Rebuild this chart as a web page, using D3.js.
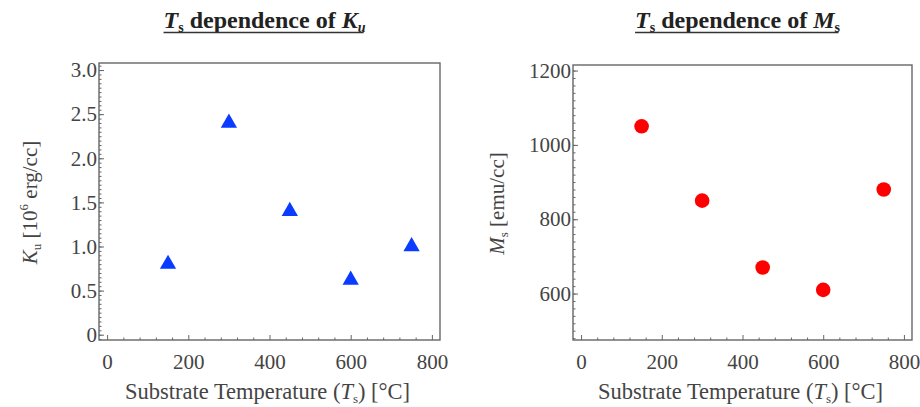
<!DOCTYPE html>
<html>
<head>
<meta charset="utf-8">
<script src="https://cdn.jsdelivr.net/npm/d3@7/dist/d3.min.js"></script>
<style>
    body { margin: 0; background: #fff; }
    text { font-family: 'Liberation Serif', 'DejaVu Serif', serif; }
</style>
</head>
<body>
<svg width="920" height="407"></svg>
<script>
// substrate temperatures (°C)
const temps = [150, 300, 450, 600, 750];
// anisotropy K_u (10^6 erg/cc)
const kuValues = [0.8, 2.4, 1.4, 0.62, 1.0];
// saturation magnetization M_s (emu/cc)
const msValues = [1050, 850, 670, 610, 880];

const xTicks = [0, 200, 400, 600, 800];
const kuTicks = [0, 0.5, 1.0, 1.5, 2.0, 2.5, 3.0];
const msTicks = [600, 800, 1000, 1200];

(function () {
    const svg = d3.select('svg');
    const frameColor = '#666';
    const labelColor = '#444';
    const fs = 21;
    const subFs = 13;

    const makePanel = (opts) => {
        const g = svg.append('g');
        const x = d3.scaleLinear().domain([-20, 820]).range([opts.left, opts.right]);
        const y = d3.scaleLinear().domain(opts.yDomain).range([opts.bottom, opts.top]);

        // minor ticks
        const xMinor = d3.range(0, 821, 40).filter(v => xTicks.indexOf(v) < 0);
        const yMinor = d3.range(opts.yDomain[0], opts.yDomain[1], opts.yMinorStep)
                .map(v => Math.round(Math.ceil(v / opts.yMinorStep) * opts.yMinorStep * 1000) / 1000)
                .filter(v => v >= opts.yDomain[0] && v <= opts.yDomain[1]);

        g.append('g')
            .attr('transform', `translate(0,${opts.bottom})`)
            .call(d3.axisBottom(x).tickValues(xMinor).tickFormat('').tickSize(-2.5));
        g.append('g')
            .attr('transform', `translate(${opts.left},0)`)
            .call(d3.axisLeft(y).tickValues(yMinor).tickFormat('').tickSize(-2.5));

        // major ticks
        const xAxis = g.append('g')
            .attr('transform', `translate(0,${opts.bottom})`)
            .call(d3.axisBottom(x).tickValues(xTicks).tickFormat(d3.format('d'))
                    .tickSize(-5).tickPadding(14));
        const yAxis = g.append('g')
            .attr('transform', `translate(${opts.left},0)`)
            .call(d3.axisLeft(y).tickValues(opts.yTicks).tickFormat(opts.yFormat)
                    .tickSize(-5).tickPadding(2));

        g.selectAll('.domain').remove();
        g.selectAll('.tick line').attr('stroke', frameColor);
        [xAxis, yAxis].forEach(a => a.selectAll('text')
                .attr('font-family', "'Liberation Serif', serif")
                .attr('font-size', fs)
                .attr('fill', labelColor));

        g.append('rect')
            .attr('x', opts.left)
            .attr('y', opts.top)
            .attr('width', opts.right - opts.left)
            .attr('height', opts.bottom - opts.top)
            .attr('fill', 'none')
            .attr('stroke', frameColor)
            .attr('stroke-width', 1.4);

        // x label
        const xl = g.append('text')
            .attr('x', (opts.left + opts.right) / 2 - 2)
            .attr('y', 399)
            .attr('text-anchor', 'middle')
            .attr('font-size', 22.5)
            .attr('fill', labelColor);
        xl.append('tspan').text('Substrate Temperature (');
        xl.append('tspan').attr('font-style', 'italic').text('T');
        xl.append('tspan').attr('font-size', subFs).attr('dy', 4).text('s');
        xl.append('tspan').attr('dy', -4).text(') [°C]');

        // y label
        const yl = g.append('text')
            .attr('transform', `translate(${opts.yLabelX},${(opts.top + opts.bottom) / 2 + 1}) rotate(-90)`)
            .attr('text-anchor', 'middle')
            .attr('font-size', fs)
            .attr('fill', labelColor);
        opts.yLabel(yl);

        // title
        const t = g.append('text')
            .attr('x', (opts.left + opts.right) / 2 - 5)
            .attr('y', 28)
            .attr('text-anchor', 'middle')
            .attr('font-size', 24)
            .attr('font-weight', 'bold')
            .attr('fill', '#222');
        t.append('tspan').attr('font-style', 'italic').text('T');
        t.append('tspan').attr('font-size', 14).attr('dy', 4).text('s');
        t.append('tspan').attr('dy', -4).text(' dependence of ');
        t.append('tspan').attr('font-style', 'italic').text(opts.titleSym);
        t.append('tspan').attr('font-size', 14).attr('dy', 4)
            .attr('font-style', opts.titleSubItalic ? 'italic' : 'normal').text(opts.titleSub);
        const bb = t.node().getBBox();
        g.append('line')
            .attr('x1', bb.x).attr('x2', bb.x + bb.width - 2)
            .attr('y1', 32.5).attr('y2', 32.5)
            .attr('stroke', '#333')
            .attr('stroke-width', 1.3);

        return { g, x, y };
    };

    const left = makePanel({
        left: 99, right: 440, top: 63, bottom: 340,
        yDomain: [-0.06, 3.08],
        yTicks: kuTicks,
        yMinorStep: 0.05,
        yFormat: d => d === 0 ? '0' : d3.format('.1f')(d),
        yLabelX: 37,
        titleSym: 'K', titleSub: 'u', titleSubItalic: true,
        yLabel: el => {
            el.append('tspan').attr('font-style', 'italic').text('K');
            el.append('tspan').attr('font-size', subFs).attr('dy', 4).text('u');
            el.append('tspan').attr('dy', -4).text(' [10');
            el.append('tspan').attr('font-size', subFs).attr('dy', -9).text('6');
            el.append('tspan').attr('dy', 9).text(' erg/cc]');
        }
    });

    const right = makePanel({
        left: 573, right: 912, top: 65, bottom: 340,
        yDomain: [475, 1215],
        yTicks: msTicks,
        yMinorStep: 20,
        yFormat: d3.format('d'),
        yLabelX: 504,
        titleSym: 'M', titleSub: 's', titleSubItalic: false,
        yLabel: el => {
            el.append('tspan').attr('font-style', 'italic').text('M');
            el.append('tspan').attr('font-size', subFs).attr('dy', 4).text('s');
            el.append('tspan').attr('dy', -4).text(' [emu/cc]');
        }
    });

    const tri = d3.symbol().type(d3.symbolTriangle).size(115);
    left.g.append('g')
        .selectAll('path')
        .data(temps.map((t, i) => ({ t, v: kuValues[i] })))
        .enter().append('path')
        .attr('d', tri)
        .attr('transform', d => `translate(${left.x(d.t)},${left.y(d.v)})`)
        .attr('fill', '#0a3cff');

    right.g.append('g')
        .selectAll('circle')
        .data(temps.map((t, i) => ({ t, v: msValues[i] })))
        .enter().append('circle')
        .attr('cx', d => right.x(d.t))
        .attr('cy', d => right.y(d.v))
        .attr('r', 7.3)
        .attr('fill', '#ff0000');
})();
</script>
</body>
</html>
